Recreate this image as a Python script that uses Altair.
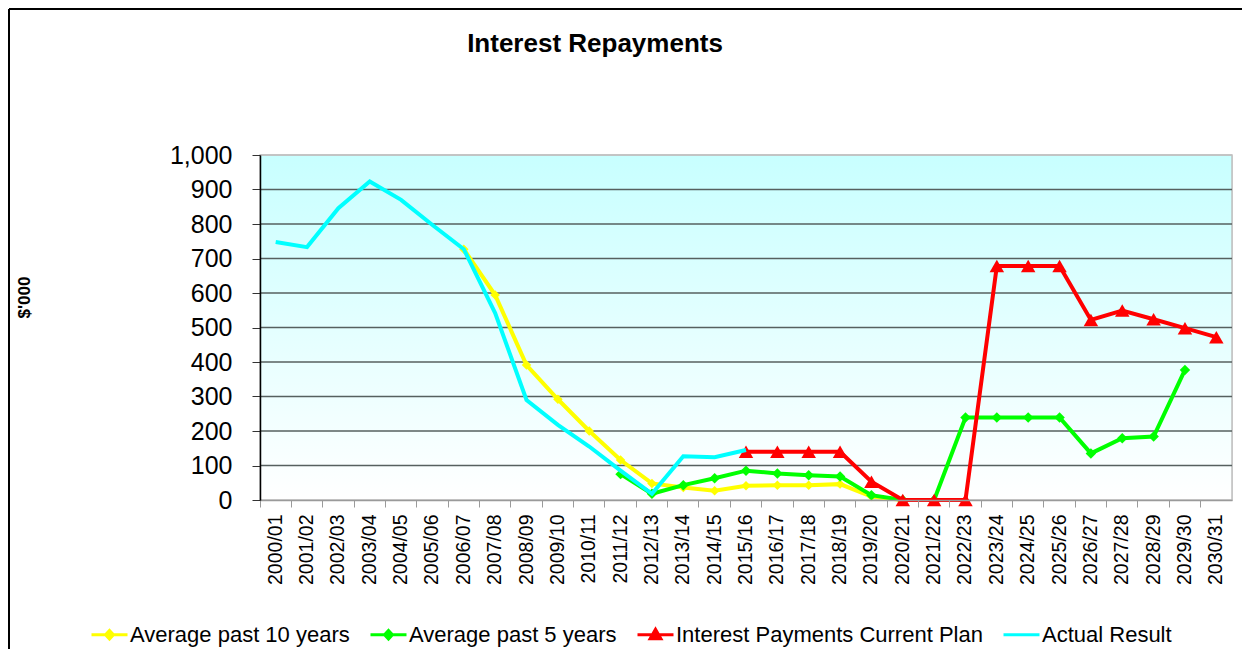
import altair as alt
import pandas as pd

FONT = "Liberation Sans"

years = ["2000/01", "2001/02", "2002/03", "2003/04", "2004/05", "2005/06", "2006/07",
         "2007/08", "2008/09", "2009/10", "2010/11", "2011/12", "2012/13", "2013/14",
         "2014/15", "2015/16", "2016/17", "2017/18", "2018/19", "2019/20", "2020/21",
         "2021/22", "2022/23", "2023/24", "2024/25", "2025/26", "2026/27", "2027/28",
         "2028/29", "2029/30", "2030/31"]

N = None
avg10 = [N, N, N, N, N, N, 727, 594, 391, 292, 200, 116, 48, 36, 27, 41, 43, 43, 46, 10, 0,
         N, N, N, N, N, N, N, N, N, N]
avg5 = [N, N, N, N, N, N, N, N, N, N, N, 75, 18, 43, 63, 85, 77, 72, 68, 14, 0,
        0, 239, 239, 239, 239, 135, 179, 184, 377, N]
plan = [N, N, N, N, N, N, N, N, N, N, N, N, N, N, N, 140, 140, 140, 140, 53, 0,
        0, 0, 678, 678, 678, 522, 549, 524, 498, 472]
actual = [748, 733, 846, 923, 870, 797, 727, 542, 290, 218, 155, 85, 18, 127, 124, 145,
          N, N, N, N, N, N, N, N, N, N, N, N, N, N, N]

series_names = ["Average past 10 years", "Average past 5 years",
                "Interest Payments Current Plan", "Actual Result"]
series_values = [avg10, avg5, plan, actual]
colors = ["#ffff00", "#00ff00", "#ff0000", "#00ffff"]
marker_shapes = ["diamond", "diamond", "triangle-up", None]
marker_sizes = [90, 110, 210, 0]
legend_paths = [
    "M-1,0L1,0M0,-0.24L0.22,0L0,0.24L-0.22,0Z",
    "M-1,0L1,0M0,-0.24L0.22,0L0,0.24L-0.22,0Z",
    "M-1,0L1,0M0,-0.3L0.3,0.22L-0.3,0.22Z",
    "M-1,0L1,0",
]
grid_values = [100, 200, 300, 400, 500, 600, 700, 800, 900, 1000]
y_ticks = [0, 100, 200, 300, 400, 500, 600, 700, 800, 900, 1000]

W, H = 972, 345

rows = []
for name, vals in zip(series_names, series_values):
    for yr, v in zip(years, vals):
        if v is not None:
            rows.append({"year": yr, "value": v, "series": name})
df = pd.DataFrame(rows)

xscale = alt.Scale(type="band", domain=years, paddingInner=0, paddingOuter=0)
yscale = alt.Scale(domain=[0, 1000], nice=False, zero=True)

x_axis = alt.Axis(title=None, labelAngle=-90, labelFontSize=19.5, labelFont=FONT,
                  labelColor="black", bandPosition=0,
                  tickSize=7, tickColor="#9a9a9a", domainColor="#9a9a9a", domainWidth=1.5,
                  labelPadding=7, grid=False, labelAlign="right", labelBaseline="middle",
                  zindex=1)
y_axis = alt.Axis(title="$'000", values=y_ticks, format=",d", labelFontSize=25,
                  labelFont=FONT, labelColor="black", grid=False, domainColor="black",
                  domainWidth=1.5, tickColor="#333333", tickSize=8, labelPadding=20,
                  titleX=-236, titleY=142, titleFontSize=17, titleFont=FONT,
                  titleFontWeight="bold", titleAlign="center", titleBaseline="middle",
                  titleColor="black", zindex=1)

X = alt.X("year:N", scale=xscale, axis=x_axis)
Y = alt.Y("value:Q", scale=yscale, axis=y_axis)

one = alt.Data(values=[{"t": "Interest Repayments"}])

background = alt.Chart(one).mark_rect(
    fill=alt.Gradient(gradient="linear", x1=0, y1=0, x2=0, y2=1,
                      stops=[alt.GradientStop(color="#c8ffff", offset=0),
                             alt.GradientStop(color="#ffffff", offset=1)]),
    stroke="#c0c0c0", strokeWidth=1.5,
).encode(x=alt.value(0), x2=alt.value("width"), y=alt.value(0), y2=alt.value("height"))

grid = alt.Chart(pd.DataFrame({"value": grid_values})).mark_rule(strokeWidth=1.6).encode(
    y=Y,
    color=alt.condition("datum.value >= 1000", alt.value("#c0c0c0"), alt.value("#56605f")),
)

layers = [background, grid]
for name, c, shp, sz in zip(series_names, colors, marker_shapes, marker_sizes):
    sub = df[df.series == name]
    layers.append(alt.Chart(sub).mark_line(color=c, strokeWidth=4).encode(x=X, y=Y))
    if shp is not None:
        layers.append(alt.Chart(sub).mark_point(filled=True, shape=shp, size=sz, color=c,
                                                opacity=1).encode(x=X, y=Y))

leg = alt.Legend(title=None, orient="none", legendX=-170, legendY=460, direction="horizontal",
                 columns=4, symbolSize=1296, symbolStrokeWidth=3, labelFontSize=22,
                 labelFont=FONT, labelColor="black", labelOffset=1, columnPadding=14,
                 padding=0, labelLimit=400)
legend_layer = alt.Chart(alt.Data(values=[{"series": s} for s in series_names])).mark_point(
    filled=True, strokeWidth=3, opacity=1
).encode(
    fill=alt.Fill("series:N", scale=alt.Scale(domain=series_names, range=colors), legend=leg),
    stroke=alt.Stroke("series:N", scale=alt.Scale(domain=series_names, range=colors), legend=leg),
    shape=alt.Shape("series:N", scale=alt.Scale(domain=series_names, range=legend_paths), legend=leg),
).transform_filter("false")

title = alt.Chart(one).mark_text(font=FONT, fontSize=26, fontWeight="bold", color="black",
                                 align="center", baseline="alphabetic").encode(
    text="t:N", x=alt.value(335), y=alt.value(-103))
border_top = alt.Chart(one).mark_rule(color="black", strokeWidth=2).encode(
    x=alt.value(-251), x2=alt.value(W + 12), y=alt.value(-146))
border_left = alt.Chart(one).mark_rule(color="black", strokeWidth=2).encode(
    x=alt.value(-251), y=alt.value(-146), y2=alt.value(H + 160))

layers += [border_top, border_left, title, legend_layer]

chart = alt.layer(*layers).properties(
    width=W, height=H,
    autosize=alt.AutoSizeParams(type="none"),
    padding={"left": 252, "top": 147, "right": 10, "bottom": 149},
).configure_view(
    stroke=None,
).configure(background="white")

chart.save("out.html", embed_options={"renderer": "svg", "actions": False})
